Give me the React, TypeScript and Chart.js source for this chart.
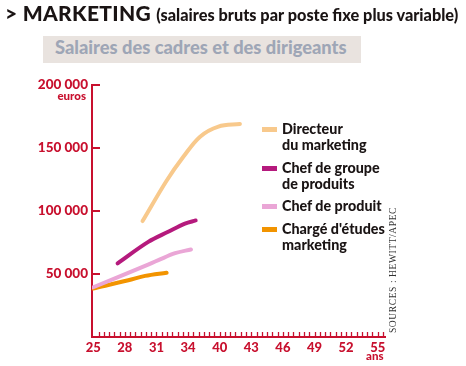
import React, { useEffect, useRef } from "react";
import { Chart, registerables } from "chart.js";

Chart.register(...registerables);

// ---- data ----
const xTickLabels = ["25", "28", "31", "34", "40", "43", "46", "49", "52", "55"];
const yTickValues = [50000, 100000, 150000, 200000];

const seriesNames = ["Directeur|du marketing", "Chef de groupe|de produits", "Chef de produit", "Chargé d'études|marketing"];

// x positions are expressed in tick-label slots (0 = "25", 1 = "28", ...)
const directeurX = [1.56, 2.32, 2.85, 3.38, 3.96, 4.64];
const directeurY = [92000, 124000, 143000, 159000, 167000, 169000];

const groupeX = [0.77, 1.74, 2.37, 2.9, 3.24];
const groupeY = [58500, 75500, 83500, 90000, 92500];

const produitX = [0, 1.64, 2.06, 2.59, 3.09];
const produitY = [39500, 56500, 61000, 66500, 69500];

const chargeX = [0, 1.11, 1.64, 2.32];
const chargeY = [38500, 45000, 48500, 51000];

const seriesColors = ["#f8c98c", "#b51a7d", "#eaa6d6", "#f29400"];

const RED = "#c8102e";

const zip = (xs: number[], ys: number[]) => xs.map((x, i) => ({ x, y: ys[i] }));

const inwardTicks = {
  id: "inwardTicks",
  afterDraw(chart: any) {
    const { ctx, chartArea, scales } = chart;
    const xs = scales.x;
    const ys = scales.y;
    ctx.save();
    ctx.strokeStyle = RED;
    // y ticks pointing right
    ctx.lineWidth = 2;
    yTickValues.forEach((v) => {
      const py = ys.getPixelForValue(v);
      ctx.beginPath();
      ctx.moveTo(chartArea.left, py);
      ctx.lineTo(chartArea.left + 8, py);
      ctx.stroke();
    });
    // x minor ticks pointing up
    ctx.lineWidth = 1.3;
    for (let k = 1; k <= 55; k++) {
      const v = k / 6;
      if (v > xs.max) break;
      const px = Math.round(xs.getPixelForValue(v)) + 0.5;
      ctx.beginPath();
      ctx.moveTo(px, chartArea.bottom);
      ctx.lineTo(px, chartArea.bottom - 5);
      ctx.stroke();
    }
    ctx.restore();
  },
};

export default function App() {
  const ref = useRef<HTMLCanvasElement>(null);

  useEffect(() => {
    if (!ref.current) return;
    const data = [zip(directeurX, directeurY), zip(groupeX, groupeY), zip(produitX, produitY), zip(chargeX, chargeY)];
    const chart = new Chart(ref.current, {
      type: "line",
      data: {
        datasets: data.map((d, i) => ({
          label: seriesNames[i].replace("|", " "),
          data: d,
          borderColor: seriesColors[i],
          borderWidth: 4,
          pointRadius: 0,
          tension: 0.35,
          borderCapStyle: "round" as const,
          fill: false,
        })),
      },
      options: {
        responsive: false,
        animation: false,
        layout: { padding: { left: 0, top: 85, right: 81, bottom: 0 } },
        plugins: { legend: { display: false }, tooltip: { enabled: false } },
        scales: {
          x: {
            type: "linear",
            min: -0.04,
            max: 9.23,
            afterBuildTicks: (s: any) => {
              s.ticks = xTickLabels.map((_, i) => ({ value: i }));
            },
            afterFit: (s: any) => {
              s.height = 29;
            },
            grid: { display: false, drawTicks: false },
            border: { display: true, color: RED, width: 2 },
            ticks: {
              color: RED,
              padding: 3,
              autoSkip: false,
              maxRotation: 0,
              font: { family: "Lato", weight: "900", size: 13 },
              callback: (v: any) => xTickLabels[Math.round(v)] ?? "",
            },
          },
          y: {
            type: "linear",
            min: 0,
            max: 200000,
            afterBuildTicks: (s: any) => {
              s.ticks = yTickValues.map((v) => ({ value: v }));
            },
            afterFit: (s: any) => {
              s.width = 92;
            },
            grid: { display: false, drawTicks: false },
            border: { display: true, color: RED, width: 2 },
            ticks: {
              color: RED,
              padding: 4,
              font: { family: "Lato", weight: "900", size: 13.5 },
              callback: (v: any) => String(v).replace(/\B(?=(\d{3})+(?!\d))/g, " "),
            },
          },
        },
      },
      plugins: [inwardTicks],
    });
    return () => chart.destroy();
  }, []);

  const legendTops = [121, 160, 198, 221];

  return (
    <div style={{ position: "absolute", left: 0, top: 0, width: 466, height: 366, background: "#fff", overflow: "hidden", fontFamily: "Lato, sans-serif" }}>
      <canvas ref={ref} width={466} height={366} style={{ position: "absolute", left: 0, top: 0 }} />
      <div style={{ position: "absolute", left: 5, top: 0, whiteSpace: "nowrap", color: "#1a1414" }}>
        <span style={{ fontSize: 21, fontWeight: 900, letterSpacing: 0.3 }}>&gt; MARKETING </span>
        <span style={{ fontSize: 16.3, fontWeight: 900 }}>(salaires bruts par poste fixe plus variable)</span>
      </div>
      <div style={{ position: "absolute", left: 43, top: 36, width: 318, height: 27, background: "#e9e3df" }} />
      <div style={{ position: "absolute", left: 55, top: 36, fontSize: 18.3, fontWeight: 900, color: "#9ea6b6", whiteSpace: "nowrap" }}>
        Salaires des cadres et des dirigeants
      </div>
      <div style={{ position: "absolute", left: 56, top: 89, fontSize: 11.5, fontWeight: 900, color: RED, width: 30, textAlign: "right" }}>euros</div>
      <div style={{ position: "absolute", left: 366, top: 349, fontSize: 11.5, fontWeight: 900, color: RED }}>ans</div>
      {seriesNames.map((n, i) => (
        <div key={i} style={{ position: "absolute", left: 262, top: legendTops[i] }}>
          <div style={{ position: "absolute", left: 0, top: 6, width: 15, height: 5, background: seriesColors[i] }} />
          <div style={{ position: "absolute", left: 20, top: 0, fontSize: 14.3, fontWeight: 900, color: "#1a1414", lineHeight: "16px", whiteSpace: "nowrap" }}>
            {n.split("|").map((l, j) => (
              <div key={j}>{l}</div>
            ))}
          </div>
        </div>
      ))}
      <div
        style={{
          position: "absolute",
          left: 393,
          top: 270,
          transform: "translate(-50%, -50%) rotate(-90deg)",
          fontFamily: "'Liberation Serif', serif",
          fontSize: 9.5,
          letterSpacing: 0.6,
          color: "#333",
          whiteSpace: "nowrap",
        }}
      >
        SOURCES : HEWITT/APEC
      </div>
    </div>
  );
}
